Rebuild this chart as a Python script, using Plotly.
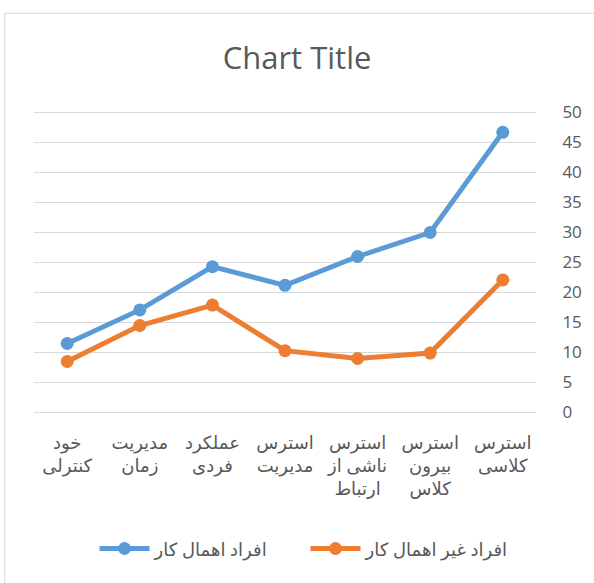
import plotly.graph_objects as go

categories = ["استرس<br>کلاسی", "استرس<br>بیرون<br>کلاس", "استرس<br>ناشی از<br>ارتباط",
              "استرس<br>مدیریت", "عملکرد<br>فردی", "مدیریت<br>زمان", "خود<br>کنترلی"]
procrastinators = [46.7, 30.0, 26.0, 21.2, 24.3, 17.1, 11.5]
non_procrastinators = [22.1, 9.9, 9.0, 10.3, 17.9, 14.5, 8.5]
series_names = ["افراد اهمال کار", "افراد غیر اهمال کار"]
y_ticks = [0, 5, 10, 15, 20, 25, 30, 35, 40, 45, 50]

blue = "#5B9BD5"
orange = "#ED7D31"
text_color = "#595959"
font_family = "Open Sans, DejaVu Sans, sans-serif"

fig = go.Figure()
fig.add_trace(go.Scatter(x=categories, y=procrastinators, name=series_names[0],
                         mode="lines+markers", line=dict(color=blue, width=5),
                         marker=dict(color=blue, size=13)))
fig.add_trace(go.Scatter(x=categories, y=non_procrastinators, name=series_names[1],
                         mode="lines+markers", line=dict(color=orange, width=5),
                         marker=dict(color=orange, size=13)))

ypad = 0.25
pxu = 6.0
L, R = 34, 54
T = 112.7 - ypad * pxu
B = 583 - 412.7 - ypad * pxu
W = 594 - L - R
H = 583 - T - B
y0px = 412.7 + ypad * pxu  # bottom of plot area in px

fig.update_layout(
    width=594, height=583,
    margin=dict(l=L, r=R, t=T, b=B, pad=0),
    paper_bgcolor="white", plot_bgcolor="white",
    font=dict(family=font_family, color=text_color, size=16),
    title=dict(text="Chart Title", x=0.5, xanchor="center", y=1 - 58 / 583, yanchor="middle",
               font=dict(size=31, color=text_color, family=font_family)),
    showlegend=True,
    legend=dict(orientation="h", x=(95 - L) / W, xanchor="left", y=-(549 - y0px) / H, yanchor="middle",
                font=dict(size=18, color=text_color), itemwidth=50,
                entrywidth=146, entrywidthmode="pixels"),
    xaxis=dict(autorange="reversed", showgrid=False, zeroline=False, showline=False,
               ticks="outside", ticklen=12, tickcolor="rgba(0,0,0,0)",
               tickfont=dict(size=18, color=text_color)),
    yaxis=dict(side="right", range=[-ypad, 50 + ypad], tickvals=y_ticks, showgrid=True,
               gridcolor="#D9D9D9", gridwidth=1.3, zeroline=False, showline=False,
               ticks="outside", ticklen=22, tickcolor="rgba(0,0,0,0)",
               tickfont=dict(size=17, color=text_color)),
    shapes=[dict(type="rect", xref="paper", yref="paper",
                 x0=(4.5 - L) / W, x1=(600 - L) / W,
                 y0=-(600 - y0px) / H, y1=1 + (T - 13.5) / H,
                 line=dict(color="#D9D9D9", width=1), fillcolor="rgba(0,0,0,0)", layer="below")],
)

fig.write_html("out.html", config={"displayModeBar": False},
               post_script="document.body.style.margin='0';")
